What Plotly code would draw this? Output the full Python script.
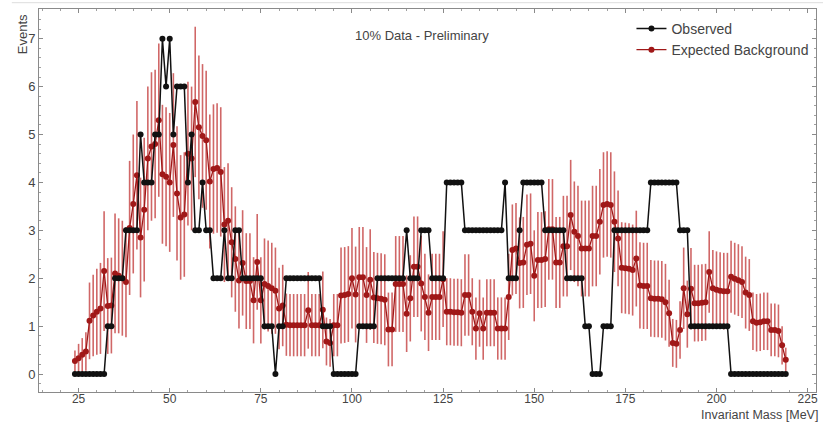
import plotly.graph_objects as go

mass = list(range(24, 220))

observed = [
    0, 0, 0, 0, 0, 0, 0, 0, 0, 1,
    1, 2, 2, 2, 3, 3, 3, 3, 5, 4,
    4, 4, 5, 5, 7, 6, 7, 5, 6, 6,
    6, 4, 5, 3, 3, 4, 3, 3, 2, 2,
    2, 3, 2, 2, 3, 3, 2, 2, 2, 2,
    2, 2, 1, 1, 1, 0, 1, 1, 2, 2,
    2, 2, 2, 2, 2, 2, 2, 2, 1, 1,
    1, 0, 0, 0, 0, 0, 0, 0, 1, 1,
    1, 1, 1, 2, 2, 2, 2, 2, 2, 2,
    2, 3, 2, 2, 2, 3, 3, 3, 2, 2,
    2, 2, 4, 4, 4, 4, 4, 3, 3, 3,
    3, 3, 3, 3, 3, 3, 3, 3, 4, 2,
    2, 2, 3, 4, 4, 4, 4, 4, 4, 3,
    3, 3, 3, 3, 3, 2, 2, 2, 2, 2,
    1, 1, 0, 0, 0, 1, 1, 1, 3, 3,
    3, 3, 3, 3, 3, 3, 3, 3, 4, 4,
    4, 4, 4, 4, 4, 4, 3, 3, 3, 1,
    1, 1, 1, 1, 1, 1, 1, 1, 1, 1,
    0, 0, 0, 0, 0, 0, 0, 0, 0, 0,
    0, 0, 0, 0, 0, 0,
]

expected = [
    0.27, 0.33, 0.40, 0.47, 1.11, 1.22, 1.30, 1.37, 2.15, 1.42,
    1.43, 2.10, 2.05, 2.00, 1.92, 3.05, 3.55, 4.15, 2.85, 3.43,
    4.50, 4.75, 4.80, 5.30, 4.17, 4.12, 4.00, 4.78, 3.77, 3.27,
    3.33, 4.60, 4.50, 5.68, 5.15, 4.97, 4.88, 4.02, 4.28, 4.30,
    4.22, 3.12, 3.20, 2.75, 2.40, 1.95, 2.32, 1.94, 1.94, 1.54,
    2.34, 1.54, 1.88, 1.84, 1.79, 1.74, 1.37, 1.43, 1.03, 1.02,
    1.02, 1.02, 1.02, 1.02, 1.33, 1.02, 1.02, 1.02, 1.34, 0.68,
    0.65, 1.02, 1.02, 1.64, 1.65, 1.67, 2.00, 1.66, 2.02, 2.02,
    1.65, 1.97, 1.60, 1.58, 1.57, 1.55, 0.93, 0.93, 1.88, 1.88,
    1.88, 1.26, 1.58, 2.24, 2.24, 1.89, 1.61, 1.28, 1.61, 1.61,
    1.61, 1.98, 1.30, 1.30, 1.29, 1.29, 1.28, 1.65, 1.65, 1.30,
    0.95, 1.27, 0.95, 1.28, 1.28, 1.28, 0.95, 0.95, 0.95, 1.61,
    2.59, 2.62, 2.32, 2.33, 2.70, 2.72, 2.05, 2.38, 2.38, 2.40,
    3.02, 3.02, 2.33, 2.33, 2.67, 2.67, 3.32, 2.97, 2.88, 2.62,
    2.62, 2.62, 2.88, 2.88, 3.18, 3.53, 3.55, 3.53, 3.18, 2.83,
    2.22, 2.21, 2.20, 2.17, 2.41, 1.85, 1.84, 1.84, 1.58, 1.57,
    1.57, 1.56, 1.50, 1.27, 0.65, 0.63, 0.92, 1.79, 1.25, 1.78,
    1.48, 1.48, 1.49, 1.50, 2.13, 1.79, 1.76, 1.74, 1.73, 1.73,
    2.03, 1.99, 1.96, 1.92, 1.70, 1.65, 1.10, 1.07, 1.08, 1.10,
    1.10, 0.92, 0.92, 0.90, 0.60, 0.30,
]

expected_err = [
    0.22, 0.30, 0.35, 0.40, 0.80, 0.85, 0.90, 0.95, 1.25, 1.00,
    1.00, 1.25, 1.20, 1.20, 1.15, 1.40, 1.45, 1.55, 1.25, 1.50,
    1.50, 1.55, 1.55, 1.60, 1.45, 1.45, 1.45, 1.50, 1.40, 1.30,
    1.30, 1.50, 1.50, 1.57, 1.50, 1.50, 1.45, 1.40, 1.35, 1.35,
    1.35, 1.20, 1.20, 1.15, 1.10, 1.00, 1.10, 1.00, 1.00, 0.90,
    1.00, 0.90, 0.95, 0.95, 0.95, 0.90, 0.85, 0.85, 0.65, 0.65,
    0.65, 0.65, 0.65, 0.65, 0.80, 0.65, 0.65, 0.65, 0.80, 0.50,
    0.50, 0.65, 0.65, 1.00, 1.00, 1.00, 1.05, 1.00, 1.05, 1.05,
    1.00, 1.05, 0.95, 0.95, 0.95, 0.95, 0.77, 0.77, 1.00, 1.00,
    1.00, 0.80, 0.90, 1.05, 1.05, 1.00, 0.90, 0.80, 0.90, 0.90,
    0.90, 1.00, 0.70, 0.70, 0.70, 0.70, 0.70, 0.85, 0.85, 0.70,
    0.65, 0.70, 0.65, 0.70, 0.70, 0.70, 0.65, 0.65, 0.65, 0.90,
    0.95, 0.95, 0.95, 0.95, 1.05, 1.05, 0.95, 1.00, 1.00, 1.00,
    1.05, 1.05, 0.95, 0.95, 1.05, 1.05, 1.15, 1.05, 1.05, 1.00,
    1.00, 1.00, 1.05, 1.05, 1.10, 1.10, 1.10, 1.10, 1.05, 1.00,
    0.95, 0.95, 0.95, 0.95, 1.00, 0.90, 0.90, 0.90, 0.80, 0.80,
    0.80, 0.80, 0.80, 0.70, 0.50, 0.50, 0.60, 0.85, 0.70, 0.85,
    0.80, 0.80, 0.80, 0.80, 0.85, 0.80, 0.80, 0.80, 0.80, 0.80,
    0.75, 0.75, 0.75, 0.75, 0.75, 0.75, 0.60, 0.60, 0.60, 0.60,
    0.60, 0.55, 0.55, 0.55, 0.40, 0.25,
]

x_ticks = [25, 50, 75, 100, 125, 150, 175, 200, 225]
y_ticks = [0, 1, 2, 3, 4, 5, 6, 7]

FONT = "Liberation Sans, Arial, Helvetica, sans-serif"
TXT = "#444444"
FRAME = "#8a8a8a"

fig = go.Figure()
fig.add_trace(go.Scatter(
    x=mass, y=expected, mode="lines+markers", name="Expected Background",
    line=dict(color="#a01818", width=1.3),
    marker=dict(color="#a01818", size=6),
    error_y=dict(type="data", array=expected_err, visible=True,
                 color="rgba(190,45,45,0.72)", thickness=1.6, width=0),
    legendrank=2,
))
fig.add_trace(go.Scatter(
    x=mass, y=observed, mode="lines+markers", name="Observed",
    line=dict(color="#111111", width=1.5),
    marker=dict(color="#111111", size=6),
    legendrank=1,
))

axis_common = dict(
    showgrid=False, zeroline=False, showline=True, linecolor=FRAME, linewidth=1,
    mirror="allticks", ticks="inside", ticklen=4, tickcolor=FRAME,
)
fig.update_xaxes(range=[14.14, 227.3], tickvals=x_ticks, ticklabelstandoff=-4,
                 tickfont=dict(family=FONT, size=12, color=TXT),
                 minor=dict(dtick=5, tick0=0, ticks="inside", ticklen=2, tickcolor="#a0a0a0"),
                 **axis_common)
fig.update_yaxes(range=[-0.375, 7.62], tickvals=y_ticks, ticklabelstandoff=0,
                 tickfont=dict(family=FONT, size=13, color=TXT),
                 minor=dict(dtick=0.2, tick0=0, ticks="inside", ticklen=2, tickcolor="#a0a0a0"),
                 **axis_common)

fig.update_layout(
    width=823, height=422,
    margin=dict(l=39, r=5, t=9, b=30),
    paper_bgcolor="white", plot_bgcolor="white",
    font=dict(family=FONT, color=TXT),
    legend=dict(x=0.7625, y=0.99, xanchor="left", yanchor="top",
                font=dict(family=FONT, size=14, color=TXT),
                bgcolor="rgba(0,0,0,0)", itemwidth=30),
    annotations=[
        dict(text="Events", xref="paper", yref="paper", x=-0.0218, y=0.992,
             xanchor="center", yanchor="top", textangle=-90, showarrow=False,
             font=dict(family=FONT, size=13, color=TXT)),
        dict(text="Invariant Mass [MeV]", xref="paper", yref="paper", x=1.0051, y=-0.0600,
             xanchor="right", yanchor="middle", showarrow=False,
             font=dict(family=FONT, size=12.5, color=TXT)),
        dict(text="10% Data - Preliminary", xref="paper", yref="paper", x=0.493, y=0.932,
             xanchor="center", yanchor="middle", showarrow=False,
             font=dict(family=FONT, size=13, color=TXT)),
    ],
    shapes=[dict(type="line", xref="paper", yref="paper", x0=-0.035, x1=1.01,
                 y0=1.0165, y1=1.0165, line=dict(color="#dddddd", width=1))],
)

fig.write_html("out.html")
